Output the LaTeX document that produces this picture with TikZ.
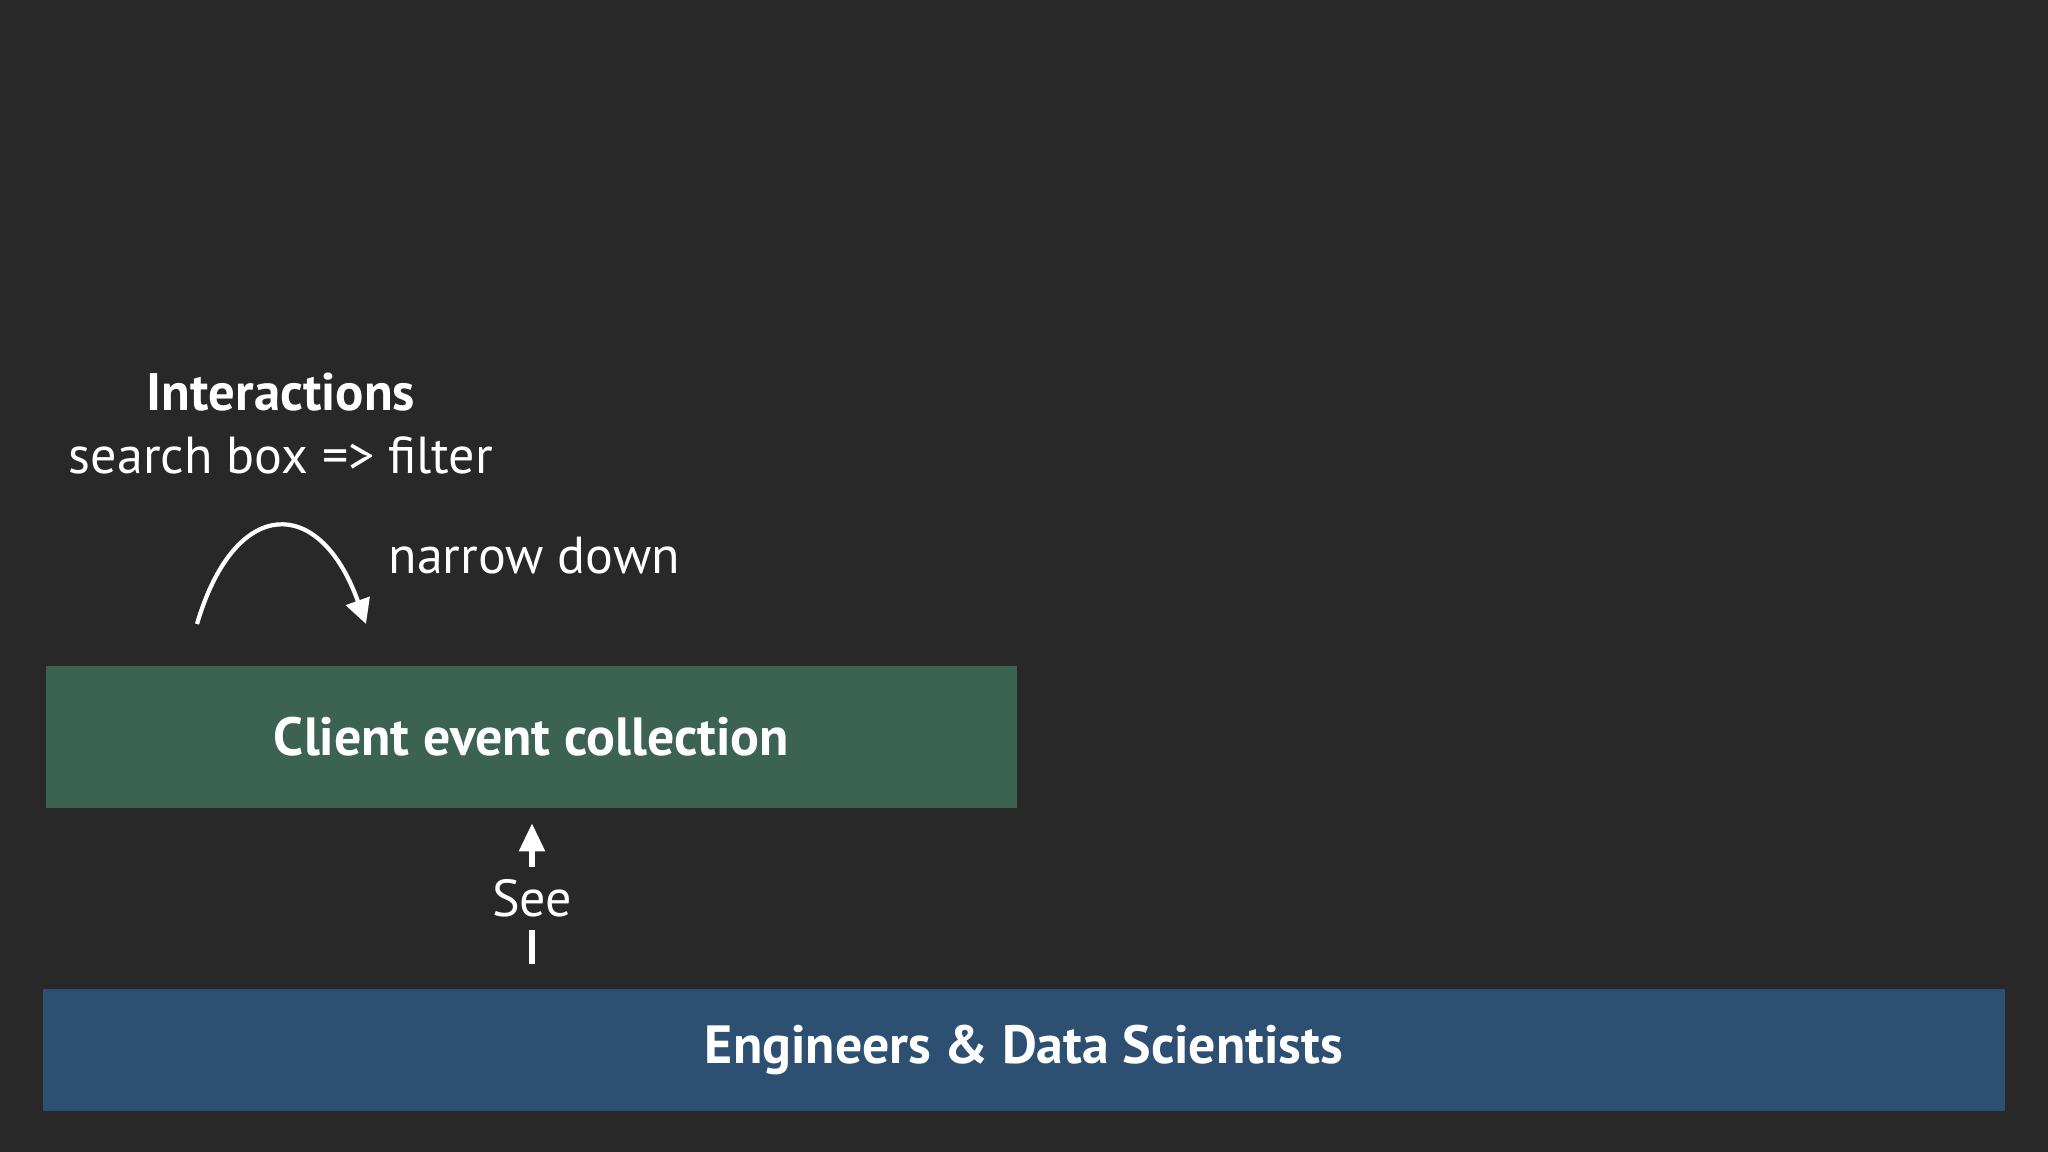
\documentclass[tikz,border=0pt]{standalone}
\usepackage{fontspec}
\setmainfont{PT Sans}
\usetikzlibrary{arrows.meta}
\definecolor{bgc}{HTML}{282828}
\definecolor{greenc}{HTML}{3C6351}
\definecolor{bluec}{HTML}{2C4F72}
\tikzset{
  box/.style={draw=none, inner sep=0pt, text=white, font=\bfseries\fontsize{15.3}{18}\selectfont},
  lbl/.style={text=white, inner sep=0pt, font=\fontsize{14.8}{18}\selectfont},
  hdr/.style={text=white, inner sep=0pt, font=\bfseries\fontsize{15}{18}\selectfont},
}
\begin{document}
\begin{tikzpicture}[x=0.01cm,y=-0.01cm]
\fill[bgc] (0,0) rectangle (2048,1152);
\useasboundingbox (0,0) rectangle (2048,1152);
\fill[greenc] (46,666) rectangle (1017,808);
\node[box] (green) at (531.5,737) {Client event collection};
\fill[bluec] (43,989) rectangle (2005,1111);
\node[box] (blue) at (1024,1050) {Engineers \& Data Scientists};
\node[hdr] (inter) at (281,392) {Interactions};
\node[lbl] (search) at (281,455) {search box => filter};
\node[lbl, anchor=west] (narrow) at (388,556) {narrow down};
\coordinate (a0) at (197,624);
\coordinate (a1) at (366,624);
\draw[white, line width=1.2pt, -{Triangle[width=7pt,length=7pt]}] (a0) .. controls (235,495) and (320,495) .. (a1);
\coordinate (sb) at (532,989);
\coordinate (st) at (532,808);
\draw[white, line width=1.8pt, -{Triangle[width=7pt,length=8pt]}, shorten <=7.1pt, shorten >=4.3pt] (sb) -- node[fill=bgc, lbl, minimum height=18pt, inner xsep=4pt] (see) {See} (st);
\end{tikzpicture}
\end{document}
